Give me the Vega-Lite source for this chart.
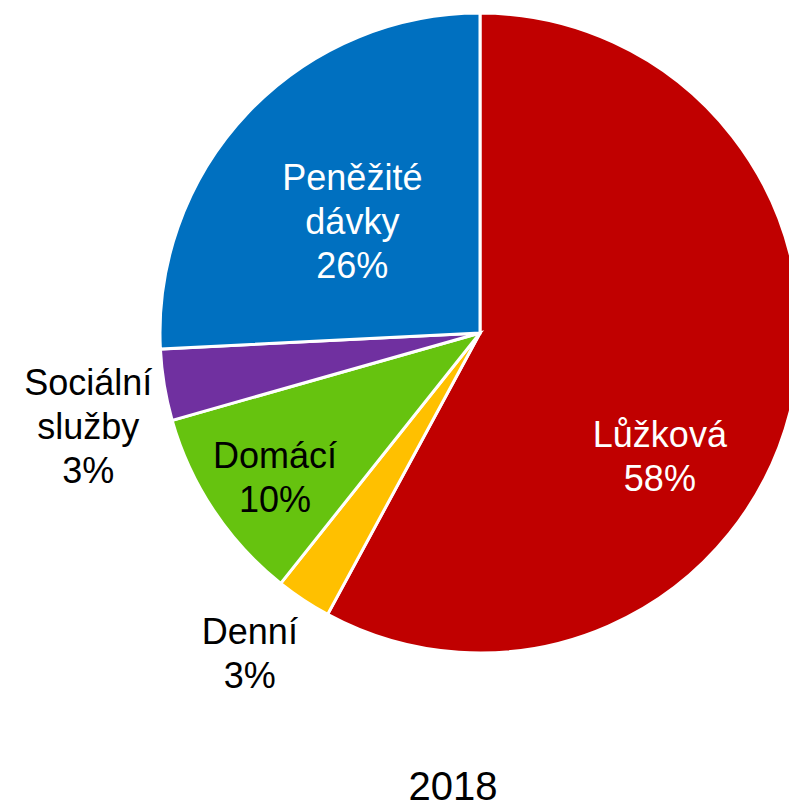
{
  "$schema": "https://vega.github.io/schema/vega-lite/v6.json",
  "width": 618,
  "height": 666,
  "autosize": {"type": "none"},
  "padding": {"left": 171, "top": 0, "right": 0, "bottom": 140},
  "background": "white",
  "config": {"view": {"stroke": null}, "font": "Liberation Sans"},
  "title": {"text": "2018", "orient": "bottom", "anchor": "middle", "fontSize": 40, "font": "Liberation Sans", "fontWeight": "normal", "color": "#000000", "offset": 73, "dx": -27, "baseline": "top"},
  "data": {"values": [
    {"cat": "Lůžková", "ord": 1, "value": 57.9, "label": "Lůžková\n58%"},
    {"cat": "Denní", "ord": 2, "value": 2.8, "label": "Denní\n3%"},
    {"cat": "Domácí", "ord": 3, "value": 9.9, "label": "Domácí\n10%"},
    {"cat": "Sociální služby", "ord": 4, "value": 3.6, "label": "Sociální\nslužby\n3%"},
    {"cat": "Peněžité dávky", "ord": 5, "value": 25.8, "label": "Peněžité\ndávky\n26%"}
  ]},
  "encoding": {
    "theta": {"field": "value", "type": "quantitative", "stack": true},
    "order": {"field": "ord", "type": "quantitative"}
  },
  "layer": [
    {
      "mark": {"type": "arc", "outerRadius": 320, "stroke": "white", "strokeWidth": 3},
      "encoding": {
        "color": {"field": "cat", "type": "nominal", "legend": null,
          "scale": {"domain": ["Lůžková", "Denní", "Domácí", "Sociální služby", "Peněžité dávky"],
                    "range": ["#C00000", "#FFC000", "#66C30F", "#7030A0", "#0070C0"]}}
      }
    },
    {
      "mark": {"type": "text", "radius": 200, "dx": -14, "dy": 54, "fontSize": 36, "lineHeight": 44, "lineBreak": "\n", "color": "white", "align": "center", "baseline": "middle", "font": "Liberation Sans"},
      "encoding": {"text": {"condition": {"test": "datum.cat === 'Lůžková'", "field": "label"}, "value": ""}}
    },
    {
      "mark": {"type": "text", "radius": 390, "dx": -15, "dy": -25, "fontSize": 36, "lineHeight": 44, "lineBreak": "\n", "color": "black", "align": "center", "baseline": "middle", "font": "Liberation Sans"},
      "encoding": {"text": {"condition": {"test": "datum.cat === 'Denní'", "field": "label"}, "value": ""}}
    },
    {
      "mark": {"type": "text", "radius": 250, "dx": 3, "dy": -15, "fontSize": 36, "lineHeight": 44, "lineBreak": "\n", "color": "black", "align": "center", "baseline": "middle", "font": "Liberation Sans"},
      "encoding": {"text": {"condition": {"test": "datum.cat === 'Domácí'", "field": "label"}, "value": ""}}
    },
    {
      "mark": {"type": "text", "radius": 400, "dx": 3, "dy": -14, "fontSize": 36, "lineHeight": 44, "lineBreak": "\n", "color": "black", "align": "center", "baseline": "middle", "font": "Liberation Sans"},
      "encoding": {"text": {"condition": {"test": "datum.cat === 'Sociální služby'", "field": "label"}, "value": ""}}
    },
    {
      "mark": {"type": "text", "radius": 172, "dx": -3, "dy": -35, "fontSize": 36, "lineHeight": 44, "lineBreak": "\n", "color": "white", "align": "center", "baseline": "middle", "font": "Liberation Sans"},
      "encoding": {"text": {"condition": {"test": "datum.cat === 'Peněžité dávky'", "field": "label"}, "value": ""}}
    }
  ]
}
